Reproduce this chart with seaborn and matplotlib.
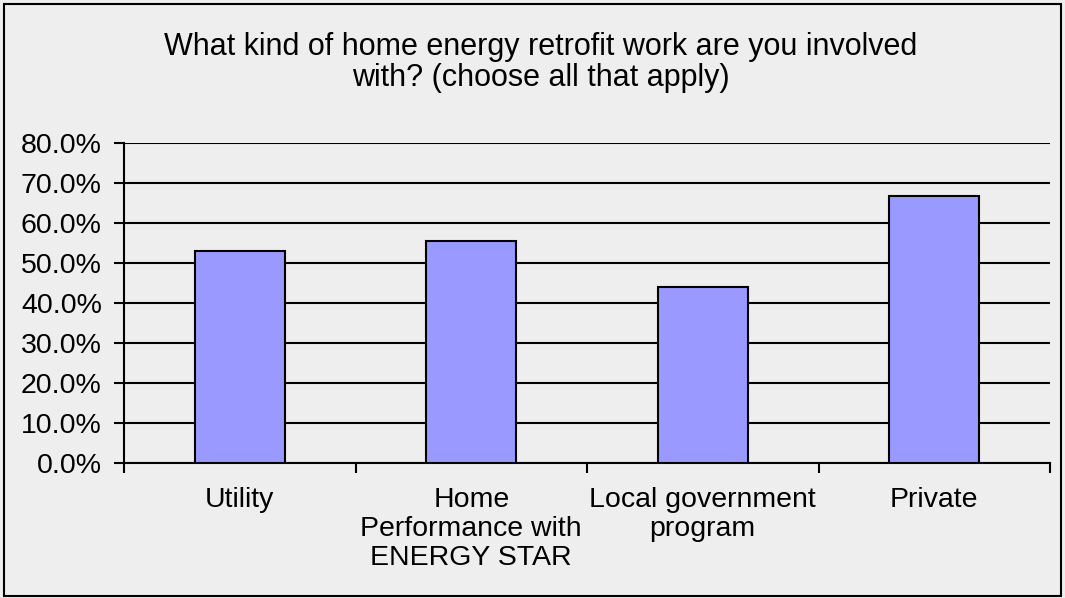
import numpy as np
import pandas as pd
import seaborn as sns
import matplotlib.pyplot as plt
from matplotlib.ticker import MultipleLocator, FixedLocator

# data
categories = ["Utility", "Home\nPerformance with\nENERGY STAR", "Local government\nprogram", "Private"]
values = [53.0, 55.6, 44.0, 66.7]

sns.set_style("white")
plt.rcParams["font.family"] = ["Liberation Sans", "DejaVu Sans"]
plt.rcParams["text.color"] = "black"
plt.rcParams["xtick.color"] = "black"
plt.rcParams["ytick.color"] = "black"

df = pd.DataFrame({"cat": categories, "pct": values})

fig = plt.figure(figsize=(10.65, 5.98), dpi=100, facecolor="#eeeeee")
ax = fig.add_axes([124 / 1065, 1 - 463 / 598, (1050 - 124) / 1065, (463 - 143) / 598])
ax.set_facecolor("#eeeeee")

sns.barplot(data=df, x="cat", y="pct", color="#9999ff", edgecolor="black",
            linewidth=1.5, width=0.39, saturation=1, ax=ax, zorder=3)

ax.set_ylim(0, 80)
ax.set_xlim(-0.5, 3.5)
ax.yaxis.set_major_locator(MultipleLocator(10))
ax.set_yticklabels([f"{v:.1f}%" for v in ax.get_yticks()])
ax.grid(axis="y", color="black", linewidth=1.5, zorder=0)
ax.set_axisbelow(True)

for s in ["top", "right"]:
    ax.spines[s].set_visible(False)
for s in ["left", "bottom"]:
    ax.spines[s].set_color("black")
    ax.spines[s].set_linewidth(1.5)

# ticks between categories
ax.xaxis.set_major_locator(FixedLocator([-0.5, 0.5, 1.5, 2.5, 3.5]))
ax.set_xticklabels([])
ax.xaxis.set_minor_locator(FixedLocator([0, 1, 2, 3]))
ax.set_xticklabels(categories, minor=True, fontsize=20.5, linespacing=1.15, va="top")
ax.tick_params(axis="x", which="major", length=7, width=1.5, direction="out", bottom=True)
ax.tick_params(axis="x", which="minor", length=0, pad=17)
ax.tick_params(axis="y", length=7, width=1.5, direction="out", left=True,
               labelsize=20.5, pad=9)
ax.set_xlabel("")
ax.set_ylabel("")

fig.text(541 / 1065, 1 - 47 / 598, "What kind of home energy retrofit work are you involved",
         ha="center", va="center", fontsize=22)
fig.text(541 / 1065, 1 - 78 / 598, "with? (choose all that apply)",
         ha="center", va="center", fontsize=22)

# outer frame
fig.patches.append(plt.Rectangle((4 / 1065, 2 / 598), 1057 / 1065, 592 / 598, transform=fig.transFigure,
                                 fill=False, edgecolor="black", linewidth=1.5))

fig.savefig("out.png", dpi=100, facecolor=fig.get_facecolor())
